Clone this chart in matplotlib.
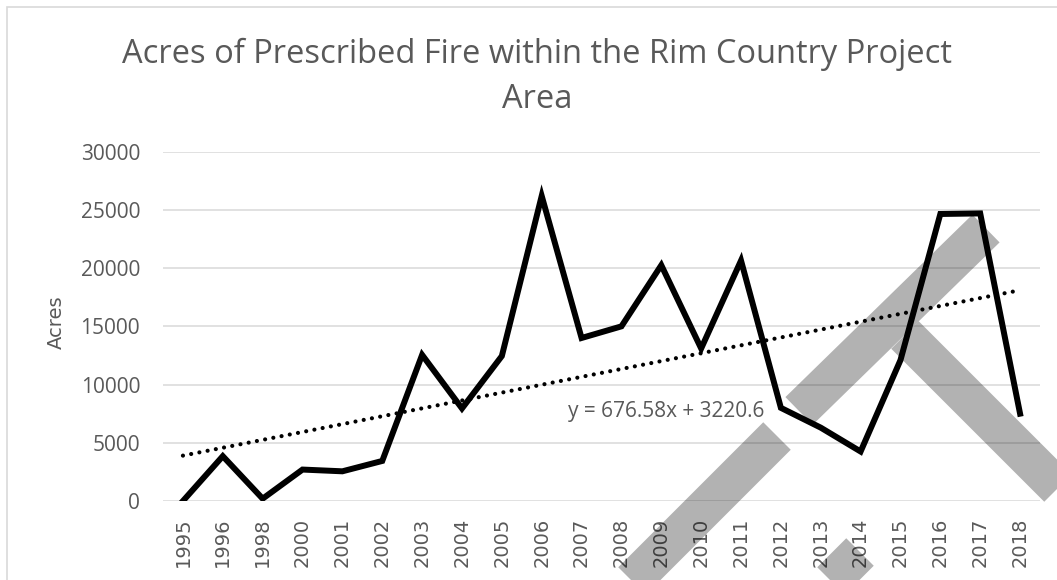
import numpy as np
import matplotlib
matplotlib.use("Agg")
import matplotlib.pyplot as plt
from matplotlib.lines import Line2D
from matplotlib.patches import Rectangle

years = ['1995', '1996', '1998', '2000', '2001', '2002', '2003', '2004', '2005',
         '2006', '2007', '2008', '2009', '2010', '2011', '2012', '2013', '2014',
         '2015', '2016', '2017', '2018']
acres = [0, 3850, 200, 2700, 2550, 3440, 12550, 7950, 12450, 26200, 14000, 15000,
         20250, 13100, 20650, 8000, 6300, 4250, 12100, 24650, 24700, 7500]
trend_slope = 676.58
trend_intercept = 3220.6
yticks = [0, 5000, 10000, 15000, 20000, 25000, 30000]

W, H = 1057, 580
gray_text = '#595959'
grid_col = '#d9d9d9'

fig = plt.figure(figsize=(W / 100, H / 100), dpi=100)

def px(x, y):
    # image pixel (from top-left) -> figure fraction
    return x / W, 1 - y / H

ax = fig.add_axes([163 / W, 1 - 501 / H, (1040 - 163) / W, (501 - 151.7) / H])

xpos = np.arange(1, len(years) + 1)
ax.plot(xpos, acres, color='black', lw=4.3, solid_joinstyle='miter', zorder=3)

trend = trend_slope * xpos + trend_intercept
ax.plot(xpos, trend, color='black', lw=3.0, linestyle=(0, (0.01, 2.0)),
        dash_capstyle='round', zorder=4)
ax.text(13.12, 7650, f'y = {trend_slope}x + {trend_intercept}', ha='center', va='center',
        fontsize=15, color=gray_text, family='Open Sans', zorder=5)

ax.set_xlim(0.5, len(years) + 0.5)
ax.set_ylim(0, 30000)
ax.set_xticks(xpos)
ax.set_xticklabels(years, rotation=90, fontsize=14, color=gray_text, family='DejaVu Sans')
ax.set_yticks(yticks)
ax.set_yticklabels([str(v) for v in yticks], fontsize=15, color=gray_text, family='Open Sans')
ax.tick_params(axis='both', length=0)
ax.tick_params(axis='y', pad=16.5)
ax.tick_params(axis='x', pad=12)
ax.grid(axis='y', color=grid_col, lw=1.1, zorder=0)
ax.set_axisbelow(True)
for s in ax.spines.values():
    s.set_visible(False)

fig.text(*px(56, 322), 'Acres', rotation=90, ha='center', va='center',
         fontsize=14, color=gray_text, family='DejaVu Sans')

fig.text(*px(537, 63), 'Acres of Prescribed Fire within the Rim Country Project',
         ha='center', va='baseline', fontsize=23.5, color=gray_text, family='Open Sans')
fig.text(*px(537, 108), 'Area', ha='center', va='baseline', fontsize=23.5,
         color=gray_text, family='Open Sans')

# chart border
fig.add_artist(Rectangle(px(7, 700), 1.2, (700 - 7) / H, transform=fig.transFigure,
                         fill=False, edgecolor=grid_col, lw=1.2))

# gray diagonal strokes over the chart
strokes = [
    [(777, 436), (577, 636)],
    [(799, 411), (986, 228.5)],
    [(905, 335), (1155, 585)],
    [(860, 552), (780, 632)],
]
for seg in strokes:
    xs, ys = zip(*[px(x, y) for x, y in seg])
    fig.add_artist(Line2D(xs, ys, transform=fig.transFigure, color='black', alpha=0.3,
                          lw=28, solid_capstyle='butt', zorder=10))

fig.savefig('out.png', dpi=100)
